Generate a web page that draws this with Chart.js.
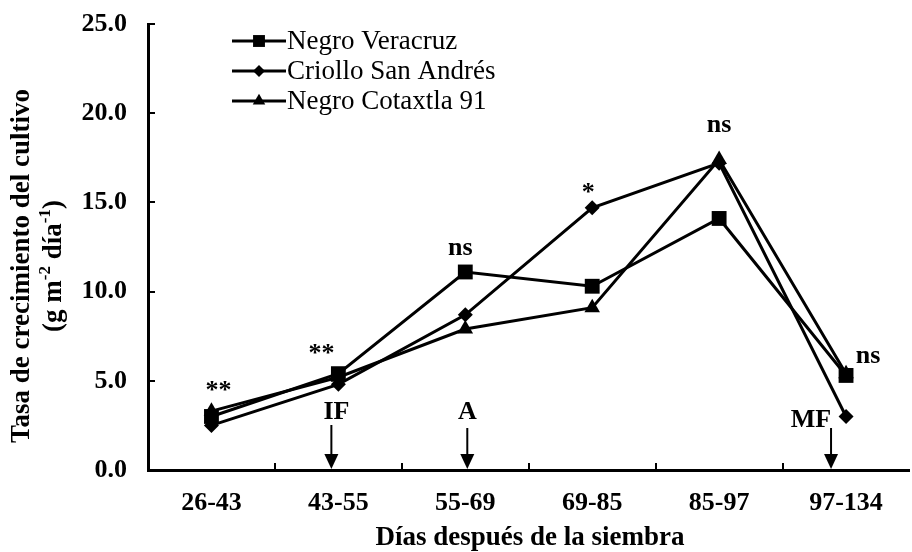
<!DOCTYPE html>
<html>
<head>
<meta charset="utf-8">
<script src="https://cdn.jsdelivr.net/npm/chart.js@4/dist/chart.umd.min.js"></script>
<style>
  html, body { margin: 0; padding: 0; background: #fff; overflow: hidden; }
  #wrap { width: 912px; height: 552px; overflow: hidden; }
  #c { display: block; }
</style>
</head>
<body>
<div id="wrap"><canvas id="c" width="920" height="552"></canvas></div>
<script>
// Growth-rate periods (days after sowing)
const periods = ['26-43', '43-55', '55-69', '69-85', '85-97', '97-134'];

// Crop growth rate, g m-2 day-1
const negroVeracruz    = [3.0, 5.4, 11.1, 10.3, 14.1, 5.3];
const criolloSanAndres = [2.5, 4.8, 8.7, 14.7, 17.2, 3.0];
const negroCotaxtla91  = [3.3, 5.2, 7.9, 9.1, 17.4, 5.4];

const seriesNames = ['Negro Veracruz', 'Criollo San Andrés', 'Negro Cotaxtla 91'];
const yTickValues = [0, 5, 10, 15, 20, 25];

// Significance of differences per period
const significance = ['**', '**', 'ns', '*', 'ns', 'ns'];

// Phenological stages marked on the time axis
const stageLabels = ['IF', 'A', 'MF'];
const stagePeriods = [1, 2, 5];

const FONT = "'Liberation Serif', 'Times New Roman', serif";

// Significance marks, placed above the highest point of each period
const sigPlugin = {
  id: 'sigMarks',
  afterDatasetsDraw(chart) {
    const {ctx, scales: {x, y}} = chart;
    const shift = [[7, -26], [-17, -25], [-5, -24], [-4, -20], [0, -34], [22, -17]];
    ctx.save();
    ctx.fillStyle = '#000';
    ctx.font = `bold 26px ${FONT}`;
    ctx.textAlign = 'center';
    ctx.textBaseline = 'middle';
    significance.forEach((s, i) => {
      const top = Math.max(negroVeracruz[i], criolloSanAndres[i], negroCotaxtla91[i]);
      const px = x.getPixelForValue(i) + shift[i][0];
      const py = y.getPixelForValue(top) + shift[i][1] + (s.startsWith('*') ? 6 : 0);
      ctx.fillText(s, px, py);
    });
    ctx.restore();
  }
};

// Stage labels with arrows pointing down to the time axis
const stagePlugin = {
  id: 'stageArrows',
  afterDatasetsDraw(chart) {
    const {ctx, scales: {x}, chartArea} = chart;
    const layout = {
      IF: {label: -2, arrow: -7, textY: 412, shaftTop: 425},
      A:  {label: 2,  arrow: 2,  textY: 412, shaftTop: 428},
      MF: {label: -35, arrow: -15, textY: 420, shaftTop: 428}
    };
    ctx.save();
    ctx.fillStyle = '#000';
    ctx.strokeStyle = '#000';
    ctx.font = `bold 26px ${FONT}`;
    ctx.textAlign = 'center';
    ctx.textBaseline = 'middle';
    stageLabels.forEach((lab, k) => {
      const c = x.getPixelForValue(stagePeriods[k]);
      const L = layout[lab];
      ctx.fillText(lab, c + L.label, L.textY);
      const ax = c + L.arrow;
      const tip = chartArea.bottom - 1;
      ctx.lineWidth = 2;
      ctx.beginPath();
      ctx.moveTo(ax, L.shaftTop);
      ctx.lineTo(ax, tip - 12);
      ctx.stroke();
      ctx.beginPath();
      ctx.moveTo(ax - 7, tip - 15);
      ctx.lineTo(ax + 7, tip - 15);
      ctx.lineTo(ax, tip);
      ctx.closePath();
      ctx.fill();
    });
    ctx.restore();
  }
};

// Inward tick marks on both axes
const innerTicks = {
  id: 'innerTicks',
  afterDraw(chart) {
    const {ctx, scales: {x, y}, chartArea} = chart;
    ctx.save();
    ctx.strokeStyle = '#000';
    ctx.lineWidth = 2;
    y.ticks.forEach((t, i) => {
      const py = Math.round(y.getPixelForTick(i));
      ctx.beginPath();
      ctx.moveTo(chartArea.left, py);
      ctx.lineTo(chartArea.left + 7, py);
      ctx.stroke();
    });
    for (let i = 1; i < periods.length; i++) {
      const px = Math.round((x.getPixelForValue(i - 1) + x.getPixelForValue(i)) / 2);
      ctx.beginPath();
      ctx.moveTo(px, chartArea.bottom);
      ctx.lineTo(px, chartArea.bottom - 7);
      ctx.stroke();
    }
    ctx.restore();
  }
};

function marker(ctx, style, cx, cy, r) {
  ctx.beginPath();
  if (style === 'rect') {
    const h = r * Math.SQRT1_2;
    ctx.rect(cx - h, cy - h, 2 * h, 2 * h);
  } else if (style === 'rectRot') {
    ctx.moveTo(cx - r, cy); ctx.lineTo(cx, cy - r);
    ctx.lineTo(cx + r, cy); ctx.lineTo(cx, cy + r);
    ctx.closePath();
  } else {
    for (let k = 0; k < 3; k++) {
      const a = k * 2 * Math.PI / 3;
      const px = cx + Math.sin(a) * r, py = cy - Math.cos(a) * r;
      k ? ctx.lineTo(px, py) : ctx.moveTo(px, py);
    }
    ctx.closePath();
  }
  ctx.fill();
}

// Legend: line with marker, then the series name
const legendPlugin = {
  id: 'lineLegend',
  afterDraw(chart) {
    const {ctx} = chart;
    ctx.save();
    ctx.fillStyle = '#000';
    ctx.strokeStyle = '#000';
    ctx.font = `27px ${FONT}`;
    ctx.textAlign = 'left';
    ctx.textBaseline = 'middle';
    chart.data.datasets.forEach((ds, i) => {
      const yy = 41 + i * 30;
      ctx.lineWidth = 3;
      ctx.beginPath();
      ctx.moveTo(232, yy);
      ctx.lineTo(286, yy);
      ctx.stroke();
      marker(ctx, ds.pointStyle, 259, yy, ds.pointRadius * 0.8);
      ctx.fillText(ds.label, 287, yy + 1);
    });
    ctx.restore();
  }
};

// Axis titles (y title carries superscripts)
const titlesPlugin = {
  id: 'axisTitles',
  afterDraw(chart) {
    const {ctx} = chart;
    ctx.save();
    ctx.fillStyle = '#000';
    ctx.textBaseline = 'middle';
    ctx.textAlign = 'center';
    ctx.font = `bold 27px ${FONT}`;
    ctx.fillText('Días después de la siembra', 530, 538);

    ctx.translate(22, 266);
    ctx.rotate(-Math.PI / 2);
    ctx.fillText('Tasa de crecimiento del cultivo', 0, 0);

    const parts = [
      ['(g m', false], ['-2', true], [' día', false], ['-1', true], [')', false]
    ];
    const big = `bold 27px ${FONT}`, small = `bold 17px ${FONT}`;
    let total = 0;
    parts.forEach(([t, sup]) => { ctx.font = sup ? small : big; total += ctx.measureText(t).width; });
    let cx = -total / 2;
    ctx.textAlign = 'left';
    parts.forEach(([t, sup]) => {
      ctx.font = sup ? small : big;
      ctx.fillText(t, cx, 32 + (sup ? -8 : 0));
      cx += ctx.measureText(t).width;
    });
    ctx.restore();
  }
};

const lineStyle = (label, data, pointStyle, pointRadius) => ({
  label, data, pointStyle, pointRadius,
  borderColor: '#000', backgroundColor: '#000',
  pointBackgroundColor: '#000', pointBorderColor: '#000', pointBorderWidth: 0,
  borderWidth: 3, tension: 0, clip: false
});

new Chart(document.getElementById('c'), {
  type: 'line',
  data: {
    labels: periods,
    datasets: [
      lineStyle(seriesNames[0], negroVeracruz, 'rect', 10.5),
      lineStyle(seriesNames[1], criolloSanAndres, 'rectRot', 7.5),
      lineStyle(seriesNames[2], negroCotaxtla91, 'triangle', 9)
    ]
  },
  options: {
    responsive: false,
    animation: false,
    devicePixelRatio: 1,
    layout: { padding: { top: 24, left: 0, right: 0, bottom: 0 } },
    plugins: { legend: { display: false }, tooltip: { enabled: false } },
    scales: {
      x: {
        offset: true,
        grid: { display: false, drawTicks: false },
        border: { display: true, color: '#000', width: 3 },
        ticks: { color: '#000', padding: 18, font: { family: FONT, size: 26, weight: 'bold' } },
        afterFit: s => { s.height = 82; s.paddingLeft = 0; s.paddingRight = 0; }
      },
      y: {
        min: 0, max: 25,
        afterBuildTicks: s => { s.ticks = yTickValues.map(v => ({ value: v })); },
        grid: { display: false, drawTicks: false },
        border: { display: true, color: '#000', width: 3 },
        ticks: {
          color: '#000', padding: 21,
          font: { family: FONT, size: 26, weight: 'bold' },
          callback: v => Number(v).toFixed(1)
        },
        afterFit: s => { s.width = 148; s.paddingTop = 0; s.paddingBottom = 0; }
      }
    }
  },
  plugins: [sigPlugin, stagePlugin, innerTicks, legendPlugin, titlesPlugin]
});
</script>
</body>
</html>
